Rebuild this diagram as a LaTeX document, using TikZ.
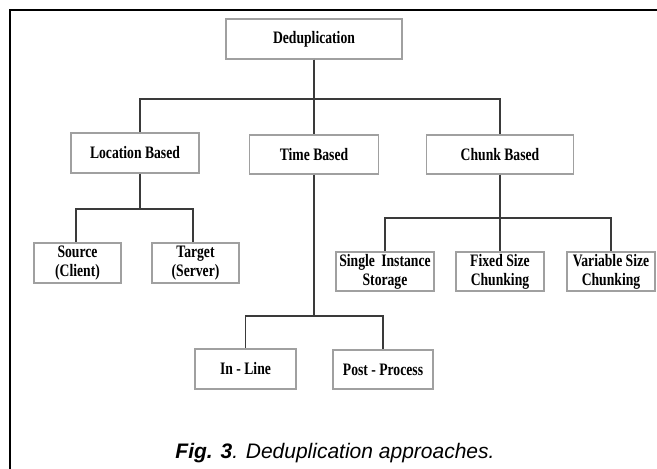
\documentclass[tikz,border=0pt]{standalone}
\usepackage{fontspec}
\newfontfamily\boxfont[FakeStretch=0.78]{Liberation Serif}
\newfontfamily\capfont{Liberation Sans}
\definecolor{boxgray}{HTML}{A0A0A0}
\definecolor{linkgray}{HTML}{3A3A3A}

\begin{document}
\begin{tikzpicture}[
    x=1pt, y=-1pt,
    box/.style={rectangle, draw=boxgray, line width=1.2pt, fill=white,
        inner sep=0pt, align=center,
        font=\boxfont\bfseries\fontsize{17.5}{19}\selectfont},
    link/.style={draw=linkgray, line width=1.8pt, -}
]
    \useasboundingbox (0,0) rectangle (657,469);
    % frame
    \draw[line width=2.5pt] (657,10) -- (10,10) -- (10,469);
    % boxes
    \node[box, minimum width=176pt, minimum height=40pt] (dedup) at (314,39) {Deduplication};
    \node[box, minimum width=128pt, minimum height=40pt] (loc) at (135,153) {Location Based};
    \node[box, minimum width=129pt, minimum height=39pt] (time) at (314,154.5) {Time Based};
    \node[box, minimum width=147pt, minimum height=39pt] (chunk) at (500,154.5) {Chunk Based};
    \node[box, minimum width=87pt, minimum height=40pt] (source) at (77.5,263) {Source\\(Client)};
    \node[box, minimum width=87pt, minimum height=40pt] (target) at (195.5,263) {Target\\(Server)};
    \node[box, minimum width=98pt, minimum height=39pt] (sis) at (385,271.5) {Single\, Instance\\Storage};
    \node[box, minimum width=88pt, minimum height=39pt] (fixed) at (500,271.5) {Fixed Size\\Chunking};
    \node[box, minimum width=88pt, minimum height=39pt] (variable) at (611,271.5) {Variable Size\\Chunking};
    \node[box, minimum width=101pt, minimum height=40pt] (inline) at (245.5,369) {In - Line};
    \node[box, minimum width=100pt, minimum height=39pt] (post) at (383,369.5) {Post - Process};
    % bus levels
    \coordinate (top bus) at (0,99);
    \coordinate (loc bus) at (0,209);
    \coordinate (chunk bus) at (0,218);
    \coordinate (time bus) at (0,316);
    % links
    \draw[link] (dedup.south) -- (dedup.south |- top bus) -| ([xshift=5pt]loc.north);
    \draw[link] (dedup.south |- top bus) -| (chunk.north);
    \draw[link] (dedup.south) -- (time.north);
    \draw[link] ([xshift=5pt]loc.south) -- ([xshift=5pt]loc.south |- loc bus) -| ([xshift=-1.5pt]source.north);
    \draw[link] ([xshift=5pt]loc.south |- loc bus) -| ([xshift=-2.5pt]target.north);
    \draw[link] (chunk.south) -- (fixed.north);
    \draw[link] (chunk.south |- chunk bus) -| (sis.north);
    \draw[link] (chunk.south |- chunk bus) -| (variable.north);
    \draw[link] (time.south) -- (time.south |- time bus) -| (inline.north);
    \draw[link] (time.south |- time bus) -| (post.north);
    % caption
    \node[anchor=base, inner sep=0pt, font=\capfont\itshape\fontsize{21}{25}\selectfont]
        (caption) at (335,458) {\textbf{Fig. 3}. Deduplication approaches.};
\end{tikzpicture}
\end{document}
